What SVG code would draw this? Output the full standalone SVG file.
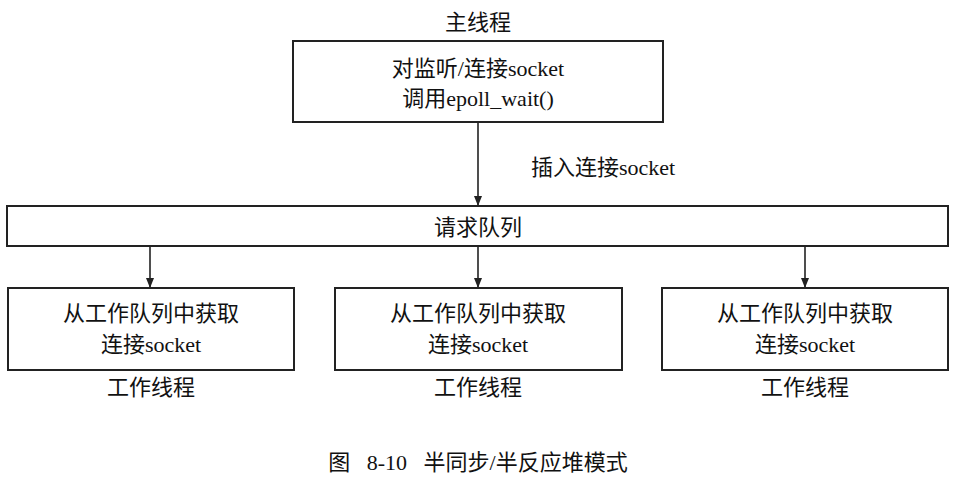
<svg xmlns="http://www.w3.org/2000/svg" width="958" height="492" viewBox="0 0 958 492">
<style>
text{font-family:"Liberation Serif","Noto Sans CJK SC",serif;font-size:22px;fill:#111;text-anchor:middle}
.b{fill:#fff;stroke:#222;stroke-width:2}
.c{stroke:#222;stroke-width:1.6;fill:none}
</style>
<defs><marker id="a" markerWidth="10" markerHeight="10" refX="9" refY="5" orient="auto" markerUnits="userSpaceOnUse"><path d="M0,1 L10,5 L0,9 z" fill="#222"/></marker></defs>
<rect width="958" height="492" fill="#fff"/>
<g id="connectors">
<line class="c" x1="478" y1="122" x2="478" y2="205" marker-end="url(#a)"/>
<line class="c" x1="150" y1="246" x2="150" y2="287" marker-end="url(#a)"/>
<line class="c" x1="478" y1="246" x2="478" y2="287" marker-end="url(#a)"/>
<line class="c" x1="805" y1="246" x2="805" y2="287" marker-end="url(#a)"/>
<text x="603" y="175">插入连接socket</text>
</g>
<g id="main"><text x="478" y="30">主线程</text><rect class="b" x="293" y="41" width="370" height="81"/><text x="478" y="76">对监听/连接socket</text><text x="478" y="106">调用epoll_wait()</text></g>
<g id="queue"><rect class="b" x="7" y="206" width="941" height="40"/><text x="478" y="235">请求队列</text></g>
<g id="w1"><rect class="b" x="8" y="288" width="286" height="82"/><text x="151" y="321">从工作队列中获取</text><text x="151" y="352">连接socket</text><text x="151" y="395">工作线程</text></g>
<g id="w2"><rect class="b" x="335" y="288" width="287" height="82"/><text x="478" y="321">从工作队列中获取</text><text x="478" y="352">连接socket</text><text x="478" y="395">工作线程</text></g>
<g id="w3"><rect class="b" x="662" y="288" width="286" height="82"/><text x="805" y="321">从工作队列中获取</text><text x="805" y="352">连接socket</text><text x="805" y="395">工作线程</text></g>
<text x="478" y="470" xml:space="preserve">图   8-10   半同步/半反应堆模式</text>
</svg>
